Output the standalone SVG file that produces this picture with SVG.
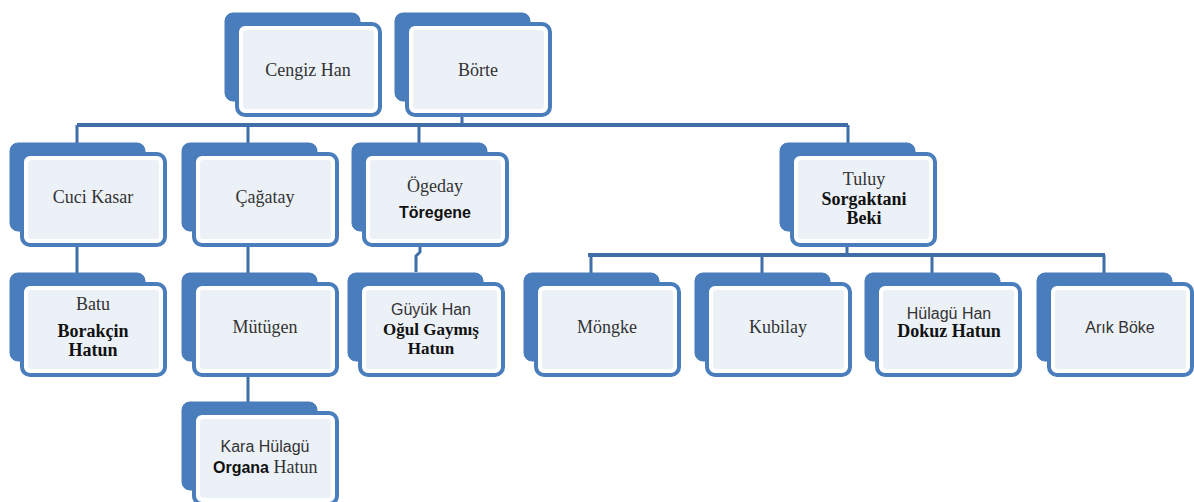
<svg xmlns="http://www.w3.org/2000/svg" width="1194" height="502" viewBox="0 0 1194 502">
<defs>
<style>
.back{fill:#4a7dbb;stroke:#4a7dbb;stroke-width:1}
.front{fill:#ffffff;stroke:#4a7dbb;stroke-width:4}
.inner{fill:#ecf1f8}
.conn{stroke:#3f6ea8;fill:none}
.main{stroke-width:4}
.drop{stroke-width:3}
.s{font-family:"Liberation Serif","Times New Roman",serif;font-size:18px;fill:#333333;text-anchor:middle}
.sb{font-family:"Liberation Serif","Times New Roman",serif;font-size:18px;font-weight:bold;fill:#111111;text-anchor:middle}
.a{font-family:"Liberation Sans",Arial,sans-serif;font-size:16px;fill:#333333;text-anchor:middle}
.ab{font-family:"Liberation Sans",Arial,sans-serif;font-size:16px;font-weight:bold;fill:#111111;text-anchor:middle}
</style>
<g id="card">
<rect class="back" x="0" y="0" width="135" height="88" rx="8"/>
<rect class="front" x="12" y="11" width="143" height="91" rx="8"/>
<rect class="inner" x="18" y="17" width="131" height="79" rx="3"/>
</g>
</defs>
<g id="connectors">
<path class="conn main" d="M77 125 H848"/>
<path class="conn drop" d="M462 113 V125 M77 125 V143 M248 125 V143 M419 125 V143 M848 125 V143"/>
<path class="conn main" d="M588 255 H1105"/>
<path class="conn drop" d="M847 243 V255 M591 255 V273 M762 255 V273 M932 255 V273 M1104 255 V273"/>
<path class="conn drop" d="M77 243 V273 M248 243 V273 M248 373 V402 M420 243 V252 L416 256 V272"/>
</g>
<g id="n-cengiz"><use href="#card" x="225" y="13"/><text class="s" x="308" y="76">Cengiz Han</text></g>
<g id="n-borte"><use href="#card" x="395" y="13"/><text class="s" x="478" y="76">Börte</text></g>
<g id="n-cuci"><use href="#card" x="10" y="143"/><text class="s" x="93" y="203">Cuci Kasar</text></g>
<g id="n-cagatay"><use href="#card" x="182" y="143"/><text class="s" x="265" y="203">Çağatay</text></g>
<g id="n-ogeday"><use href="#card" x="352" y="143"/><text class="s" x="435" y="192">Ögeday</text><text class="ab" x="435" y="218">Töregene</text></g>
<g id="n-tuluy"><use href="#card" x="780" y="143"/><text class="s" x="864" y="185">Tuluy</text><text class="sb" x="864" y="205">Sorgaktani</text><text class="sb" x="864" y="224">Beki</text></g>
<g id="n-batu"><use href="#card" x="10" y="273"/><text class="s" x="93" y="310">Batu</text><text class="sb" x="93" y="337">Borakçin</text><text class="sb" x="93" y="356">Hatun</text></g>
<g id="n-mutugen"><use href="#card" x="182" y="273"/><text class="s" x="265" y="333">Mütügen</text></g>
<g id="n-guyuk"><use href="#card" x="348" y="273"/><text class="a" x="431" y="315">Güyük Han</text><text class="sb" x="431" y="335" style="font-size:17px">Oğul Gaymış</text><text class="sb" x="431" y="354" style="font-size:17px">Hatun</text></g>
<g id="n-mongke"><use href="#card" x="524" y="273"/><text class="s" x="607" y="333">Möngke</text></g>
<g id="n-kubilay"><use href="#card" x="695" y="273"/><text class="s" x="778" y="333">Kubilay</text></g>
<g id="n-hulagu"><use href="#card" x="865" y="273"/><text class="a" x="949" y="319">Hülagü Han</text><text class="sb" x="949" y="337">Dokuz Hatun</text></g>
<g id="n-arik"><use href="#card" x="1037" y="273"/><text class="a" x="1120" y="333">Arık Böke</text></g>
<g id="n-kara"><use href="#card" x="182" y="402"/><text class="a" x="265" y="452">Kara Hülagü</text><text x="213" y="473" style="font-family:'Liberation Serif','Times New Roman',serif;font-size:18px;fill:#333333"><tspan style="font-family:'Liberation Sans',Arial,sans-serif;font-size:16px;font-weight:bold;fill:#111111">Organa</tspan> Hatun</text></g>
</svg>
